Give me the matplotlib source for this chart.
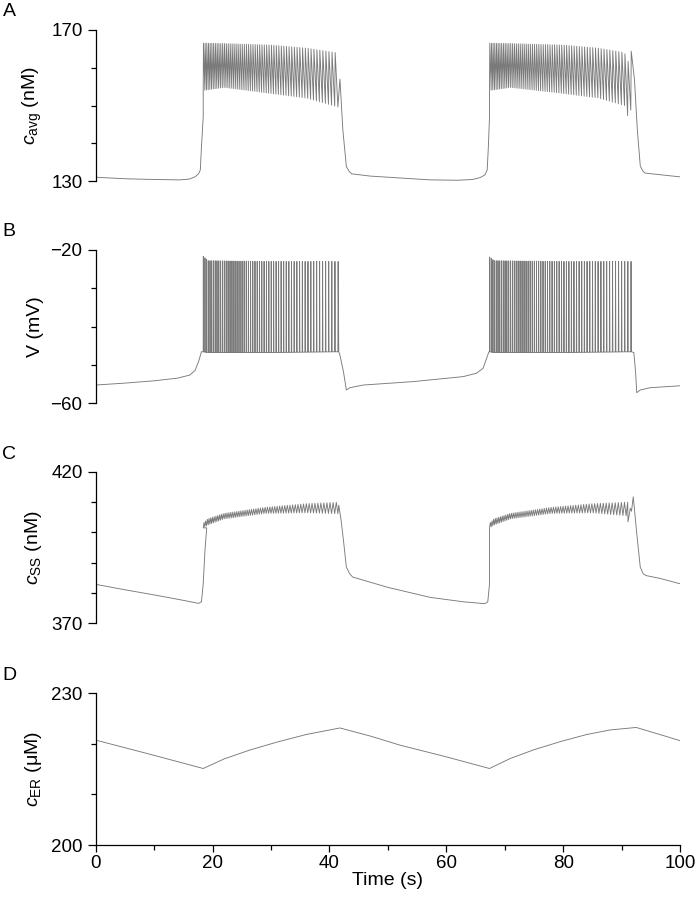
import numpy as np
import matplotlib
matplotlib.use('Agg')
import matplotlib.pyplot as plt
from matplotlib.ticker import MultipleLocator

plt.rcParams['font.family'] = ['Liberation Sans', 'DejaVu Sans']
plt.rcParams['mathtext.fontset'] = 'custom'
plt.rcParams['mathtext.rm'] = 'Liberation Sans'
plt.rcParams['mathtext.it'] = 'Liberation Sans:italic'

# --- valeurs ---
# trains de potentiels d'action (debut, fin), intervalle au debut et a la fin (s)
burst_win = [(18.4, 41.5), (67.4, 91.9)]
isi_start, isi_end = 0.28, 0.55

# A : c_avg (nM)
avg_pre_t = [0, 5, 10, 14.4, 16.0, 17.0, 17.6, 17.9, 18.1, 18.4]
avg_pre_c = [131.0, 130.6, 130.4, 130.3, 130.5, 131.1, 131.9, 132.9, 139.0, 147.0]
avg_env_t = [18.4, 22, 30, 36, 41.5, 67.4, 71, 80, 86, 90.5, 91.1, 91.9]
avg_env_hi = [166.5, 166.4, 166.0, 165.2, 163.9, 166.5, 166.4, 166.0, 165.2, 164.0, 161.6, 165.6]
avg_env_lo = [154.0, 154.8, 153.2, 152.0, 149.6, 154.0, 154.8, 153.2, 152.0, 150.0, 147.0, 150.0]
avg_post_t = [[41.8, 42.3, 42.9, 43.4, 43.8, 47, 52, 57.2, 62, 64.5, 65.8, 66.6, 67.0, 67.2, 67.4],
              [92.2, 92.7, 93.2, 93.6, 94.0, 97, 100]]
avg_post_c = [[157.0, 143.5, 133.8, 132.5, 131.9, 131.3, 130.8, 130.3, 130.2, 130.4, 130.9,
               131.6, 132.9, 139.0, 147.0],
              [157.0, 143.5, 134.0, 132.7, 132.1, 131.6, 131.1]]

# B : V (mV)
v_pre_t = [0, 5, 10, 14, 16.1, 17.0, 17.6, 18.1]
v_pre_v = [-55.3, -54.8, -54.2, -53.5, -52.7, -51.5, -49.2, -46.6]
v_env_t = [18.4, 19.2, 30, 41.5, 67.4, 68.2, 80, 91.9]
v_env_hi = [-21.6, -22.8, -23.0, -23.0, -21.8, -22.8, -23.0, -23.0]
v_env_lo = [-46.6, -46.8, -46.8, -46.6, -46.6, -46.8, -46.8, -46.6]
v_post_t = [[41.6, 41.8, 42.4, 42.9, 43.5, 45.8, 54.4, 62.9, 65.2, 66.3, 66.9, 67.3],
            [92.1, 92.4, 92.6, 93.2, 94.9, 100]]
v_post_v = [[-46.6, -47.5, -51.8, -56.6, -56.0, -55.3, -54.4, -53.1, -52.2, -50.9, -48.3, -46.6],
            [-46.8, -52.0, -57.3, -56.6, -56.0, -55.5]]

# C : c_ss (nM)
ss_pre_t = [0, 5, 10, 15, 17.6, 18.1, 18.4, 18.7, 19.0]
ss_pre_c = [382.8, 381.0, 379.3, 377.5, 376.5, 377.0, 383.0, 394.0, 401.5]
ss_env_t = [18.4, 19.2, 22, 29, 36, 41.5, 67.4, 68.2, 71, 78, 85, 90.8]
ss_env_hi = [403.0, 404.5, 406.3, 408.3, 409.5, 410.0, 403.0, 404.5, 406.3, 408.3, 409.5, 410.0]
ss_env_lo = [401.5, 402.5, 404.5, 406.3, 406.5, 406.2, 401.5, 402.5, 404.5, 406.3, 406.5, 405.5]
ss_post_t = [[41.6, 42.0, 42.4, 42.9, 43.5, 44.0, 50, 57.2, 63, 66.6, 67.1, 67.4],
             [91.1, 91.5, 91.7, 92.0, 92.6, 93.2, 93.7, 94.2, 96.5, 100]]
ss_post_c = [[409.0, 404.0, 397.4, 388.5, 386.2, 385.2, 381.8, 378.5, 377.0, 376.4, 377.0, 383.0],
             [403.5, 408.0, 407.0, 411.8, 399.6, 388.5, 386.3, 385.7, 384.8, 383.0]]

# D : c_ER (uM)
er_t = [0, 9, 18.4, 22, 26.4, 31, 36, 41.8, 47, 52.1, 60, 67.4, 71, 75, 79.5, 84, 88, 92.5, 96, 100]
er_c = [220.7, 218.0, 215.1, 217.0, 218.75, 220.3, 221.8, 223.1, 221.5, 219.7, 217.4, 215.1,
        217.1, 218.8, 220.4, 221.8, 222.7, 223.2, 222.0, 220.6]

LINE = '#7a7a7a'


def spike_train(t0, t1, env_t, hi, lo, rise, fall):
    # un point bas, un pic, (un retour) pour chaque potentiel d'action
    tt, yy = [], []
    t = t0
    while t < t1:
        p = isi_start + (isi_end - isi_start) * (t - t0) / (t1 - t0)
        pts = [(t, lo), (t + rise * p, hi)]
        if rise + fall < 1:
            pts.append((t + (rise + fall) * p, lo))
        for x, env in pts:
            if x > t1:
                break
            tt.append(x)
            yy.append(np.interp(x, env_t, env))
        t += p
    return tt, yy


def trace(pre_t, pre_y, env_t, hi, lo, post_t, post_y, rise, fall):
    T, Y = list(pre_t), list(pre_y)
    for k, (t0, t1) in enumerate(burst_win):
        end = t1 if k == 0 else min(t1, post_t[1][0])
        bt, by = spike_train(t0, end, env_t, hi, lo, rise, fall)
        T += bt
        Y += by
        T += post_t[k]
        Y += post_y[k]
    return T, Y


fig = plt.figure(figsize=(6.98, 8.99), dpi=100)
tops = [30, 250, 472, 693]
bots = [181, 403, 623, 845]
L, R = 95.7 / 698, 680 / 698
axes = []
for top, bot in zip(tops, bots):
    ax = fig.add_axes([L, 1 - bot / 899, R - L, (bot - top) / 899])
    axes.append(ax)

traces = [
    trace(avg_pre_t, avg_pre_c, avg_env_t, avg_env_hi, avg_env_lo, avg_post_t, avg_post_c, 0.15, 0.85),
    trace(v_pre_t, v_pre_v, v_env_t, v_env_hi, v_env_lo, v_post_t, v_post_v, 0.08, 0.1),
    trace(ss_pre_t, ss_pre_c, ss_env_t, ss_env_hi, ss_env_lo, ss_post_t, ss_post_c, 0.5, 0.5),
    (er_t, er_c),
]
ylims = [(130, 170), (-60, -20), (370, 420), (200, 230)]
ylabels = [r'$c_{\mathrm{avg}}$ (nM)', 'V (mV)', r'$c_{\mathrm{SS}}$ (nM)', r'$c_{\mathrm{ER}}$ ($\mathrm{\mu}$M)']
letters = ['A', 'B', 'C', 'D']

for i, ax in enumerate(axes):
    t, y = traces[i]
    ax.plot(t, y, color=LINE, lw=0.65)
    ax.set_xlim(0, 100)
    ax.set_ylim(*ylims[i])
    ax.set_yticks(ylims[i])
    ax.yaxis.set_minor_locator(MultipleLocator(10))
    ax.spines['top'].set_visible(False)
    ax.spines['right'].set_visible(False)
    ax.spines['left'].set_linewidth(0.9)
    ax.tick_params(axis='y', which='major', length=6, width=0.9, labelsize=13.5, pad=3.5)
    ax.tick_params(axis='y', which='minor', length=3.6, width=0.9)
    ax.set_ylabel(ylabels[i], fontsize=14, labelpad=0)
    ax.yaxis.set_label_coords(-0.088, 0.5)
    fig.text(9 / 698, 1 - (12 + tops[i] - 30) / 899, letters[i], fontsize=14,
             ha='center', va='center')
    if i < 3:
        ax.spines['bottom'].set_visible(False)
        ax.set_xticks([])
    else:
        ax.spines['bottom'].set_linewidth(0.9)
        ax.xaxis.set_major_locator(MultipleLocator(20))
        ax.xaxis.set_minor_locator(MultipleLocator(10))
        ax.tick_params(axis='x', which='major', length=5, width=0.9, labelsize=13.5, pad=2)
        ax.tick_params(axis='x', which='minor', length=3.6, width=0.9)
        ax.set_xlabel('Time (s)', fontsize=14, labelpad=0)

fig.savefig('out.png', dpi=100)
